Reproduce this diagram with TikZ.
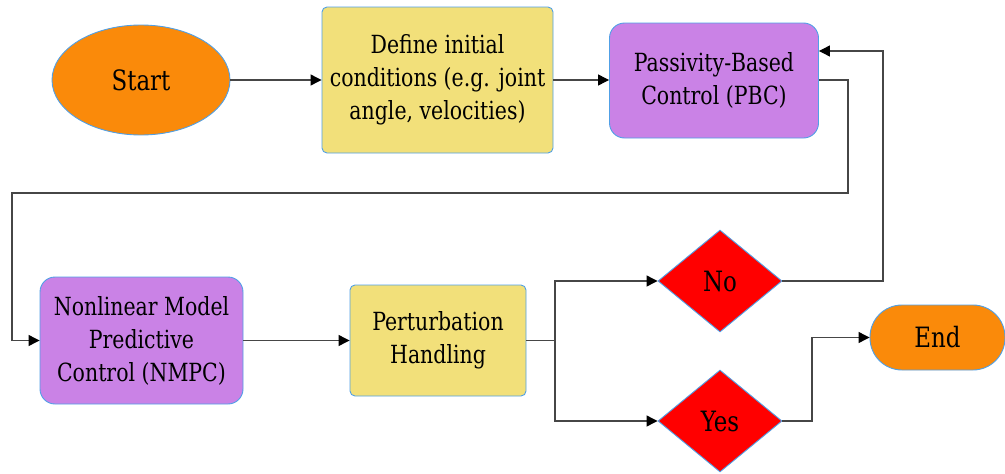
\documentclass[tikz,border=0pt]{standalone}
\usepackage{fontspec}
\setmainfont[FakeStretch=0.91]{DejaVu Serif Condensed}
\usetikzlibrary{shapes.geometric,arrows.meta}
\definecolor{borderblue}{RGB}{80,160,230}
\definecolor{cOrange}{RGB}{250,138,10}
\definecolor{cYellow}{RGB}{242,224,122}
\definecolor{cPurple}{RGB}{202,130,230}
\definecolor{cRed}{RGB}{255,0,0}
\definecolor{lineGray}{RGB}{70,70,70}
\tikzset{
  x=1pt, y=-1pt,
  base/.style={draw=borderblue, line width=0.9pt, inner sep=0pt, align=center,
    font=\fontsize{25}{33}\selectfont, text=black},
  startshape/.style={base, ellipse, fill=cOrange, minimum width=178pt, minimum height=110pt,
    font=\fontsize{28}{30}\selectfont},
  procbox/.style={base, rectangle, rounded corners=5pt, fill=cYellow},
  ctrlbox/.style={base, rectangle, rounded corners=15pt, fill=cPurple},
  decision/.style={base, diamond, fill=cRed, minimum width=124pt, minimum height=102pt,
    font=\fontsize{28}{30}\selectfont},
  endshape/.style={base, rectangle, rounded corners=32pt, fill=cOrange,
    minimum width=135pt, minimum height=65pt, font=\fontsize{28}{30}\selectfont},
  conn/.style={draw=lineGray, line width=1.2pt,
    -{Triangle[length=11pt,width=11pt,color=black,fill=black]}},
  plainconn/.style={draw=lineGray, line width=1.2pt},
}
\begin{document}
\begin{tikzpicture}
\useasboundingbox (0,0) rectangle (1005,474);
\node[startshape] (start) at (141,80) {Start};
\node[procbox, minimum width=231pt, minimum height=146pt] (define) at (437.5,80)
  {Define initial\\conditions (e.g. joint\\angle, velocities)};
\node[ctrlbox, minimum width=209pt, minimum height=115pt] (pbc) at (714,80.5)
  {Passivity-Based\\Control (PBC)};
\node[ctrlbox, minimum width=203pt, minimum height=127pt] (nmpc) at (141.5,340.5)
  {Nonlinear Model\\Predictive\\Control (NMPC)};
\node[procbox, minimum width=176pt, minimum height=111pt] (pert) at (438,340.5)
  {Perturbation\\Handling};
\node[decision] (no) at (720,281) {No};
\node[decision] (yes) at (720,421) {Yes};
\node[endshape] (end) at (937.5,337.5) {End};

\coordinate (fbA) at (848,80);
\coordinate (fbB) at (848,193);
\coordinate (fbC) at (12,193);
\coordinate (fbD) at (12,340.5);
\coordinate (split) at (555,340.5);
\coordinate (noR) at (883,281);
\coordinate (yesR) at (812,421);

\draw[conn] (start) -- (define);
\draw[conn] (define.east |- 0,80) -- (pbc.west |- 0,80);
\draw[conn] (pbc.east |- fbA) -- (fbA) -- (fbB) -- (fbC) -- (fbD) -- (nmpc.west);
\draw[conn] (nmpc) -- (pert);
\draw[plainconn] (pert.east) -- (split);
\draw[conn] (split) |- (no.west);
\draw[conn] (split) |- (yes.west);
\draw[conn] (no.east) -- (noR) -- (noR |- 0,51) -- (pbc.east |- 0,51);
\draw[conn] (yes.east) -- (yesR) |- (end.west);
\end{tikzpicture}
\end{document}
